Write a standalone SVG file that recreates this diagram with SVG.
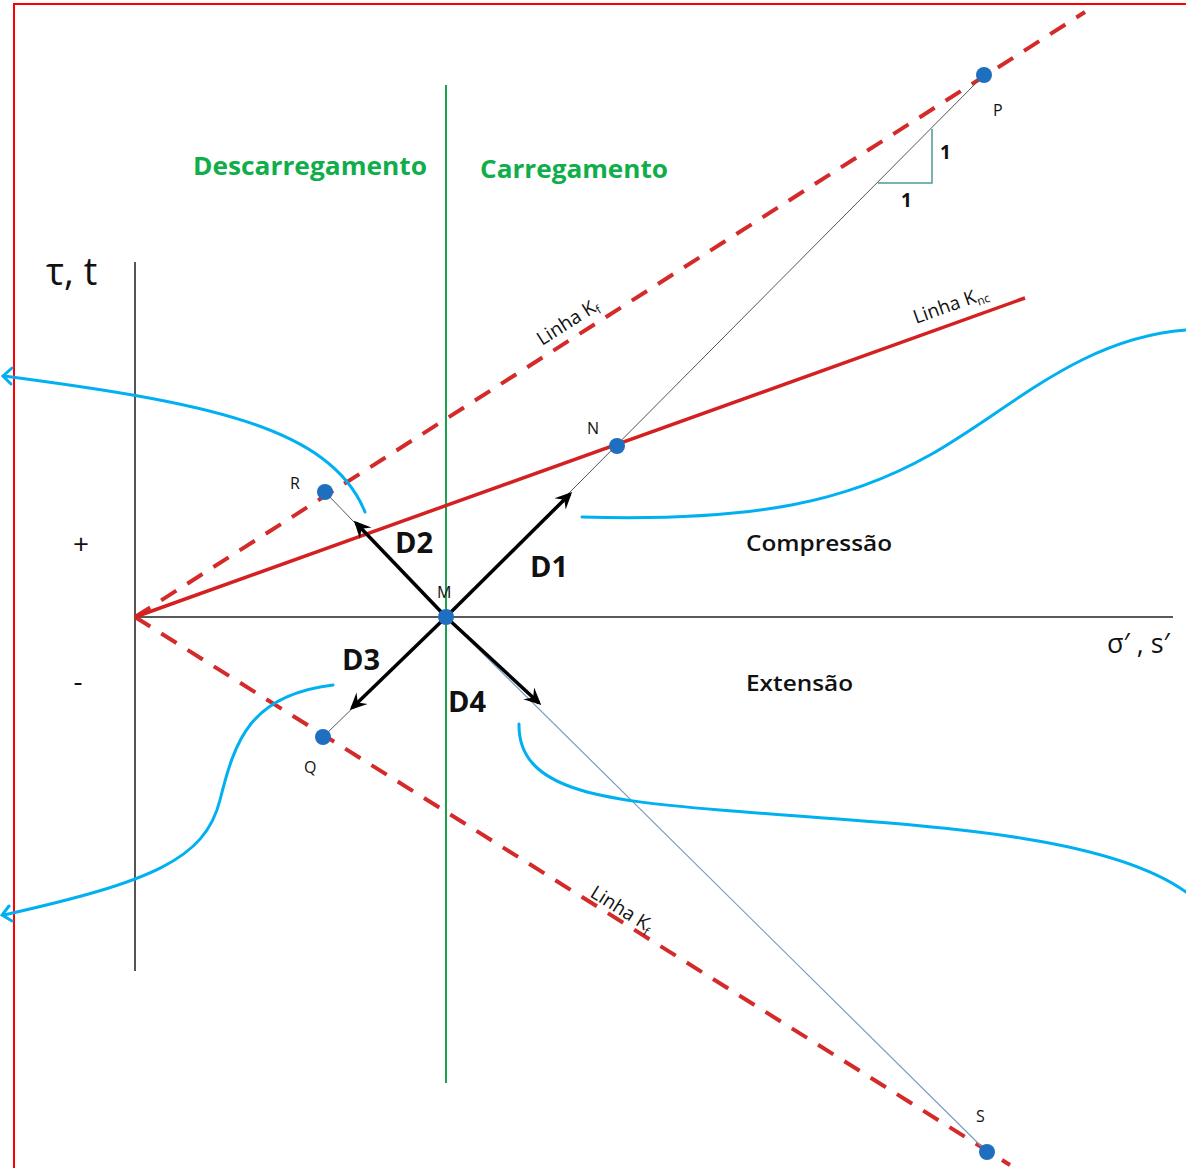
<svg xmlns="http://www.w3.org/2000/svg" width="1186" height="1168" viewBox="0 0 1186 1168">
<defs>
<style>
.lbl{font-family:"Open Sans","Liberation Sans",sans-serif;fill:#111}
.green{font-family:"Open Sans","Liberation Sans",sans-serif;font-weight:700;fill:#0fae4a;font-size:25px}
.dlab{font-family:"Open Sans","Liberation Sans",sans-serif;font-weight:700;fill:#111;font-size:29px}
.pt{font-family:"Open Sans","Liberation Sans",sans-serif;fill:#111;font-size:16px}
.dot{fill:#1f6fc0}
.kf{stroke:#d42a2a;stroke-width:4;stroke-dasharray:18 13;fill:none}
.blue{stroke:#00b0f0;stroke-width:3;fill:none;stroke-linecap:round}
.arr{stroke:#000;stroke-width:3.5;fill:none;marker-end:url(#ah)}
.lk{font-family:"Open Sans","Liberation Sans",sans-serif;fill:#111;font-size:19px}
</style>
<marker id="ah" markerUnits="userSpaceOnUse" markerWidth="24" markerHeight="24" viewBox="-20 -12 24 24" refX="-3" refY="0" orient="auto">
<path d="M0,0 L-17,-8 L-11,0 L-17,8 z" fill="#000"/>
</marker>
</defs>
<rect x="0" y="0" width="1186" height="1168" fill="#fff"/>
<rect x="14" y="4" width="1200" height="1200" fill="none" stroke="#ff0000" stroke-width="2"/>

<g id="axes">
<line x1="135" y1="262" x2="135" y2="971" stroke="#555" stroke-width="2"/>
<line x1="135" y1="617" x2="1173" y2="617" stroke="#222" stroke-width="1.5"/>
<line x1="446" y1="85" x2="446" y2="1083" stroke="#1aa34a" stroke-width="2"/>
<text class="lbl" x="46" y="285" font-size="38">τ, t</text>
<text class="lbl" x="81" y="554" font-size="28" text-anchor="middle">+</text>
<text class="lbl" x="78" y="691" font-size="28" text-anchor="middle">-</text>
<text class="lbl" x="1107" y="653" font-size="27">σ′ , s′</text>
</g>

<g id="lines">
<line class="kf" x1="135" y1="617" x2="1085" y2="12"/>
<line class="kf" x1="135" y1="617" x2="1010" y2="1165"/>
<line x1="135" y1="617" x2="1025" y2="298" stroke="#d42020" stroke-width="3.5"/>
<text class="lk" transform="translate(542,346) rotate(-32.5)">Linha K<tspan font-size="12" dy="4">f</tspan></text>
<text class="lk" transform="translate(916,324) rotate(-19.7)">Linha K<tspan font-size="12" dy="4">nc</tspan></text>
<text class="lk" transform="translate(589,896) rotate(32)">Linha K<tspan font-size="12" dy="4">f</tspan></text>
</g>

<g id="connectors">
<line x1="446" y1="617" x2="984" y2="75" stroke="#555" stroke-width="1"/>
<line x1="446" y1="617" x2="325" y2="492" stroke="#555" stroke-width="1"/>
<line x1="446" y1="617" x2="323" y2="737" stroke="#555" stroke-width="1"/>
<line x1="446" y1="617" x2="987" y2="1152" stroke="#7b9cc0" stroke-width="1.2"/>
<polyline points="878,183 932,183 932,129" fill="none" stroke="#4a9a9a" stroke-width="1.5"/>
<line class="arr" x1="446" y1="617" x2="570" y2="494"/>
<line class="arr" x1="446" y1="617" x2="356" y2="523"/>
<line class="arr" x1="446" y1="617" x2="352" y2="708"/>
<line class="arr" x1="446" y1="617" x2="539" y2="703"/>
<path class="blue" d="M365,512 C330,425 200,402 4,376"/>
<polyline class="blue" points="12,368 3,376 11,384"/>
<path class="blue" d="M333,685 C250,695 235,740 220,800 C205,860 150,882 4,915"/>
<polyline class="blue" points="9,906 2,915 12,921"/>
<path class="blue" d="M582,517 C760,522 850,500 930,455 C1010,410 1080,338 1186,330"/>
<path class="blue" d="M519,724 C518,790 600,800 720,810 C900,825 1100,830 1186,892"/>
</g>

<g id="labels">
<text class="green" x="193" y="175" textLength="234" lengthAdjust="spacingAndGlyphs">Descarregamento</text>
<text class="green" x="480" y="178" textLength="188" lengthAdjust="spacingAndGlyphs">Carregamento</text>
<text class="lbl" x="940" y="159" font-size="19" font-weight="700">1</text>
<text class="lbl" x="901" y="207" font-size="19" font-weight="700">1</text>
<text class="dlab" x="395" y="553">D2</text>
<text class="dlab" x="530" y="577">D1</text>
<text class="dlab" x="342" y="670">D3</text>
<text class="dlab" x="448" y="712">D4</text>
<text class="lbl" x="746" y="551" font-size="22" font-weight="600" textLength="146" lengthAdjust="spacingAndGlyphs">Compressão</text>
<text class="lbl" x="746" y="691" font-size="22" font-weight="600" textLength="107" lengthAdjust="spacingAndGlyphs">Extensão</text>
</g>

<g id="node-P"><circle class="dot" cx="984" cy="75" r="8"/><text class="pt" x="993" y="116">P</text></g>
<g id="node-N"><circle class="dot" cx="617" cy="446" r="8"/><text class="pt" x="587" y="434">N</text></g>
<g id="node-R"><circle class="dot" cx="325" cy="492" r="8"/><text class="pt" x="290" y="489">R</text></g>
<g id="node-M"><circle class="dot" cx="446" cy="617" r="8"/><text class="pt" x="437" y="598">M</text></g>
<g id="node-Q"><circle class="dot" cx="323" cy="737" r="8"/><text class="pt" x="304" y="773">Q</text></g>
<g id="node-S"><circle class="dot" cx="987" cy="1152" r="8"/><text class="pt" x="976" y="1122">S</text></g>
</svg>
